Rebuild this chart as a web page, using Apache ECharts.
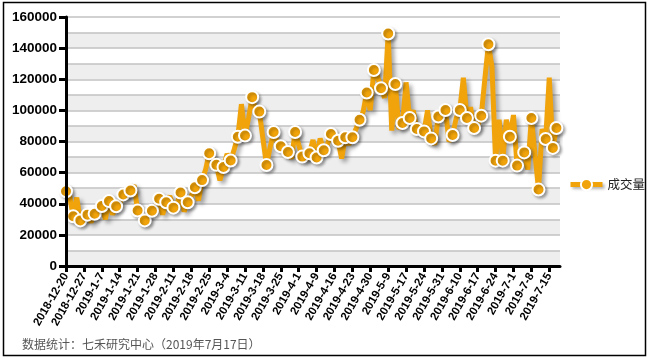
<!DOCTYPE html>
<html><head><meta charset="utf-8">
<script src="https://cdn.jsdelivr.net/npm/echarts@6/dist/echarts.min.js"></script>
<style>html,body{margin:0;padding:0;background:#fff}#c{width:651px;height:359px}</style>
</head><body><div id="c"></div>
<script>
const dates = ['2018-12-20','2018-12-21','2018-12-24','2018-12-25','2018-12-26','2018-12-27','2018-12-28','2019-1-2','2019-1-3','2019-1-4','2019-1-7','2019-1-8','2019-1-9','2019-1-10','2019-1-11','2019-1-14','2019-1-15','2019-1-16','2019-1-17','2019-1-18','2019-1-21','2019-1-22','2019-1-23','2019-1-24','2019-1-25','2019-1-28','2019-1-29','2019-1-30','2019-1-31','2019-2-1','2019-2-11','2019-2-12','2019-2-13','2019-2-14','2019-2-15','2019-2-18','2019-2-19','2019-2-20','2019-2-21','2019-2-22','2019-2-25','2019-2-26','2019-2-27','2019-2-28','2019-3-1','2019-3-4','2019-3-5','2019-3-6','2019-3-7','2019-3-8','2019-3-11','2019-3-12','2019-3-13','2019-3-14','2019-3-15','2019-3-18','2019-3-19','2019-3-20','2019-3-21','2019-3-22','2019-3-25','2019-3-26','2019-3-27','2019-3-28','2019-3-29','2019-4-1','2019-4-2','2019-4-3','2019-4-4','2019-4-8','2019-4-9','2019-4-10','2019-4-11','2019-4-12','2019-4-15','2019-4-16','2019-4-17','2019-4-18','2019-4-19','2019-4-22','2019-4-23','2019-4-24','2019-4-25','2019-4-26','2019-4-29','2019-4-30','2019-5-5','2019-5-6','2019-5-7','2019-5-8','2019-5-9','2019-5-10','2019-5-13','2019-5-14','2019-5-16','2019-5-17','2019-5-20','2019-5-21','2019-5-22','2019-5-23','2019-5-24','2019-5-27','2019-5-28','2019-5-29','2019-5-30','2019-5-31','2019-6-3','2019-6-4','2019-6-5','2019-6-6','2019-6-10','2019-6-11','2019-6-12','2019-6-13','2019-6-14','2019-6-17','2019-6-18','2019-6-19','2019-6-20','2019-6-21','2019-6-24','2019-6-25','2019-6-26','2019-6-27','2019-6-28','2019-7-1','2019-7-2','2019-7-3','2019-7-4','2019-7-5','2019-7-8','2019-7-9','2019-7-10','2019-7-11','2019-7-12','2019-7-15','2019-7-16','2019-7-17','2019-7-18'];

const volume = [
48000,45000,32000,44000,29300,31000,33000,28000,33600,39000,
38600,30000,41700,33000,38400,40000,46000,44000,48500,52000,
35700,31000,29300,33000,35500,38000,43200,33000,41000,45000,
37500,40000,47200,35000,41000,45000,50600,42000,55200,62000,
72400,69000,65000,55000,63600,72000,67800,75000,83100,104000,
83800,95000,108500,100000,99200,82000,64900,76000,86100,80000,
76900,76000,73300,69000,86100,78000,70300,68000,72400,81000,
69700,82000,74400,78000,84800,80000,80500,69000,82700,78000,
82700,88000,94000,99000,111500,100000,125900,122000,114200,108000,
149400,87000,116900,88000,91900,118000,95100,100000,88000,86000,
86500,100000,82000,78000,96100,97000,100200,80000,84200,95000,
100200,121000,95100,102000,88700,90000,96600,120000,142500,128000,
67700,94000,67700,94000,83100,97000,64500,70000,73000,62000,
95100,72000,49100,88000,81600,121000,75900,88700];

const seriesName = '成交量';
const yTicks = [0,20000,40000,60000,80000,100000,120000,140000,160000];
const footer = '数据统计：七禾研究中心（2019年7月17日）';
const markEvery = 2;

const gold = '#f0a30a';
const chart = echarts.init(document.getElementById('c'), null, {renderer:'canvas'});
const lastIdx = volume.length - 1;
const seriesData = volume.map((v, i) => (i % markEvery === 0 || i === lastIdx) ? v : {value: v, symbol: 'none'});

chart.setOption({
  animation: false,
  backgroundColor: '#fff',
  grid: {left: 66, top: 17, right: 91, bottom: 93, containLabel: false},
  legend: {
    data: [seriesName], left: 563, top: 173, itemWidth: 32, itemHeight: 14,
    lineStyle: {width: 5, color: gold, shadowColor: 'rgba(0,0,0,0.3)', shadowBlur: 3, shadowOffsetX: 2, shadowOffsetY: 2},
    itemStyle: {color: gold, borderColor: '#fff', borderWidth: 2},
    textStyle: {fontSize: 12.5, color: '#222', fontFamily: '"Noto Sans CJK SC", sans-serif'}
  },
  xAxis: {
    type: 'category', data: dates, boundaryGap: false,
    axisLine: {show: true, lineStyle: {color: '#000', width: 3}},
    axisTick: {show: true, interval: 4, length: 6, lineStyle: {color: '#000', width: 3}},
    axisLabel: {interval: 4, rotate: 60, margin: 8, color: '#000', fontWeight: 'bold', fontSize: 11.5,
      fontFamily: '"Liberation Sans", Arial, sans-serif'},
    splitLine: {show: false}
  },
  yAxis: [{
    type: 'value', min: yTicks[0], max: yTicks[yTicks.length-1], interval: yTicks[1]-yTicks[0],
    axisLine: {show: true, lineStyle: {color: '#000', width: 3}},
    axisTick: {show: true, length: 7, lineStyle: {color: '#000', width: 3}},
    axisLabel: {margin: 9, color: '#000', fontWeight: 'bold', fontSize: 13.5,
      fontFamily: '"Liberation Sans", Arial, sans-serif', formatter: v => String(v)},
    splitLine: {show: false}, z: 5
  }, {
    type: 'value', min: yTicks[0], max: yTicks[yTicks.length-1], interval: (yTicks[1]-yTicks[0])/2,
    position: 'left', axisLine: {show: false}, axisTick: {show: false}, axisLabel: {show: false},
    splitLine: {show: true, lineStyle: {color: '#c2c2c2', width: 1.5}},
    splitArea: {show: true, areaStyle: {color: ['#eeeeee', '#ffffff']}}
  }],
  series: [{
    name: seriesName, type: 'line', yAxisIndex: 0, data: seriesData,
    symbol: 'circle', symbolSize: 12, showAllSymbol: true,
    lineStyle: {color: gold, width: 5, shadowColor: 'rgba(0,0,0,0.35)', shadowBlur: 4, shadowOffsetX: 3, shadowOffsetY: 3},
    itemStyle: {color: gold, borderColor: '#fff', borderWidth: 2, shadowColor: 'rgba(0,0,0,0.3)', shadowBlur: 3, shadowOffsetX: 2, shadowOffsetY: 2}
  }],
  graphic: [
    {type: 'rect', shape: {x: 3.5, y: 2.5, width: 642, height: 353}, style: {fill: null, stroke: '#000', lineWidth: 1.5}, silent: true},
    {type: 'text', left: 22, top: 338, style: {text: footer, fill: '#555', font: '12px "Noto Sans CJK SC", sans-serif'}}
  ]
});
</script></body></html>
